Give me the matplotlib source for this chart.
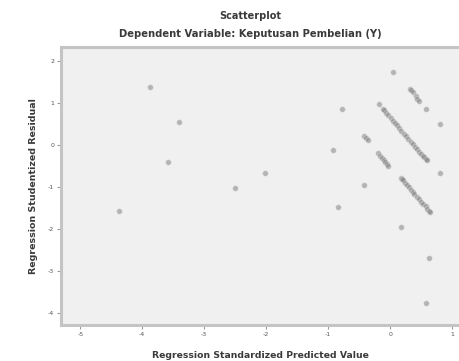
import matplotlib
import numpy as np

matplotlib.use("Agg")
import matplotlib.pyplot as plt

# standardized predicted value (x) and studentized residual (y)
pred_left = [-4.37, -3.87, -3.59, -3.41, -2.50, -2.02]
resid_left = [-1.56, 1.37, -0.40, 0.55, -1.03, -0.66]

pred_single = [-0.92, -0.84, -0.78, -0.43, 0.04, 0.18, 0.58, 0.58, 0.62, 0.81, 0.81]
resid_single = [-0.12, -1.47, 0.85, -0.95, 1.73, -1.94, 0.85, -3.76, -2.69, 0.50, -0.66]

# diagonal streaks of overlapping cases
pred_streaks = [
    0.32, 0.34, 0.37, 0.41, 0.44, 0.46,
    -0.18, -0.12, -0.10, -0.07, -0.03, 0.01, 0.05, 0.08, 0.11, 0.14, 0.18, 0.22, 0.25,
    0.29, 0.33, 0.36, 0.40, 0.43, 0.47, 0.50, 0.53, 0.55, 0.57, 0.59,
    -0.42, -0.39, -0.36,
    -0.19, -0.16, -0.13, -0.10, -0.08, -0.05, -0.03,
    0.17, 0.19, 0.20, 0.24, 0.27, 0.30, 0.33, 0.36, 0.39, 0.43, 0.46, 0.50, 0.53, 0.57, 0.60, 0.63, 0.65,
]
resid_streaks = [
    1.34, 1.30, 1.25, 1.16, 1.10, 1.05,
    0.97, 0.86, 0.83, 0.77, 0.71, 0.64, 0.57, 0.52, 0.47, 0.41, 0.34, 0.27, 0.22,
    0.15, 0.08, 0.03, -0.04, -0.09, -0.16, -0.21, -0.26, -0.29, -0.33, -0.36,
    0.21, 0.16, 0.11,
    -0.20, -0.25, -0.30, -0.35, -0.40, -0.45, -0.49,
    -0.79, -0.81, -0.83, -0.90, -0.96, -1.01, -1.06, -1.11, -1.17, -1.23, -1.29, -1.35,
    -1.40, -1.46, -1.51, -1.56, -1.59,
]

x_ticks = [-5, -4, -3, -2, -1, 0, 1]
y_ticks = [2, 1, 0, -1, -2, -3, -4]

text_col = "#3a3a3a"

fig = plt.figure(figsize=(4.59, 3.61), dpi=100)
ax = fig.add_axes([0.133, 0.0997, 0.867, 0.770])
ax.set_facecolor("#f0f0f0")

x_all = np.array(pred_left + pred_single + pred_streaks)
y_all = np.array(resid_left + resid_single + resid_streaks)
ax.scatter(x_all, y_all, s=16, color="#7a7a7a", alpha=0.5, edgecolors="#e6e6e6", linewidths=0.5, zorder=3)

ax.set_xlim(-5.31, 1.11)
ax.set_ylim(-4.28, 2.33)
ax.set_xticks(x_ticks)
ax.set_yticks(y_ticks)
ax.set_xticklabels([str(t) for t in x_ticks])
ax.set_yticklabels([str(t) for t in y_ticks])
ax.tick_params(direction="out", length=3, width=0.8, color="#999999", labelsize=4.5, labelcolor="#555555", pad=2)

for side in ["left", "bottom", "top"]:
    ax.spines[side].set_color("#c4c4c4")
    ax.spines[side].set_linewidth(2.2)
ax.spines["right"].set_visible(False)

ax.set_xlabel("Regression Standardized Predicted Value", fontsize=6.7, fontweight="bold", color=text_col, labelpad=10)
ax.set_ylabel("Regression Studentized Residual", fontsize=6.8, fontweight="bold", color=text_col, labelpad=7)
fig.text(0.545, 0.955, "Scatterplot", ha="center", va="center", fontsize=7.0, fontweight="bold", color=text_col)
fig.text(0.545, 0.905, "Dependent Variable: Keputusan Pembelian (Y)", ha="center", va="center",
         fontsize=7.2, fontweight="bold", color=text_col)

fig.savefig("out.png", dpi=100)
plt.close(fig)
